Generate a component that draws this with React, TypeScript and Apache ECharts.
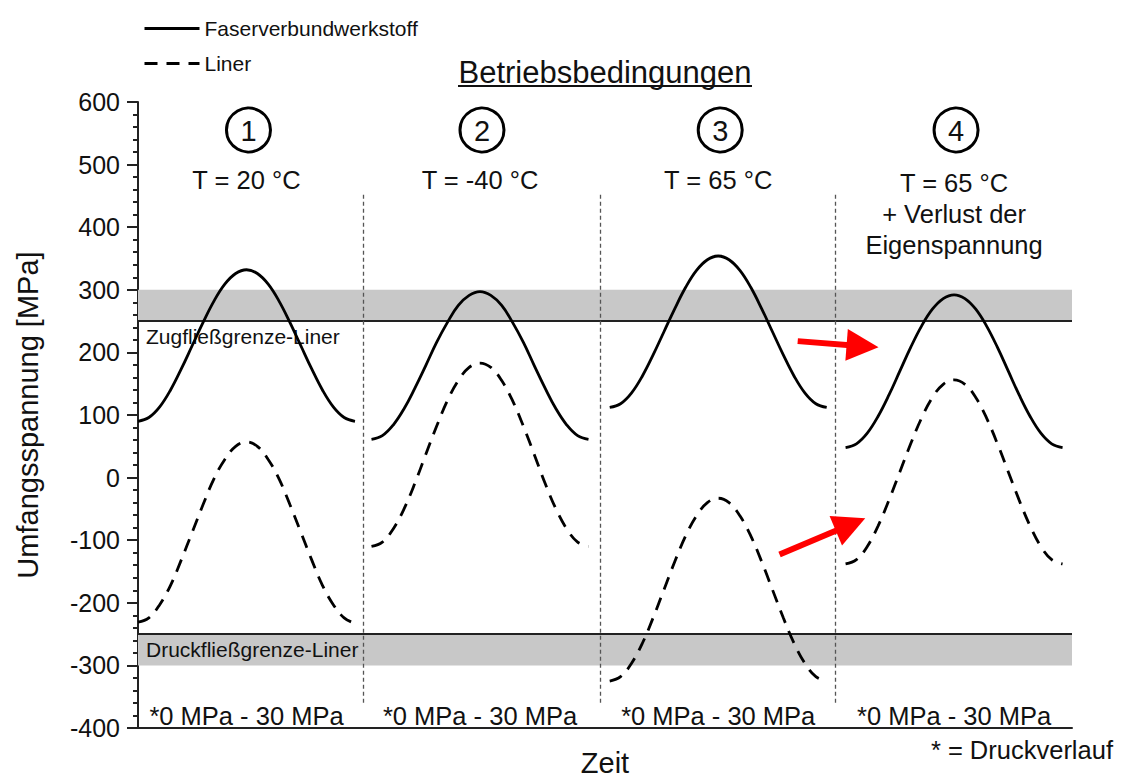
import React, { useEffect, useRef } from "react";
import * as echarts from "echarts";

const FONT = "'Liberation Sans', Arial, sans-serif";

// time offsets within one load cycle (fraction of a section)
const cycleOffsets = [0, 0.046, 0.092, 0.138, 0.184, 0.23, 0.276, 0.322, 0.368, 0.414, 0.46, 0.506, 0.552, 0.598, 0.644, 0.69, 0.736, 0.782, 0.828, 0.874, 0.92];
const sectionStarts = [0, 0.99, 2.0, 3.0];
const dividerX = [0.955, 1.958, 2.958];

const faser1 = [90, 96, 113, 140, 174, 211, 248, 282, 309, 326, 332, 326, 309, 282, 248, 211, 174, 140, 113, 96, 90];
const faser2 = [61, 67, 84, 110, 143, 179, 216, 248, 275, 291, 297, 291, 275, 248, 216, 179, 143, 110, 84, 67, 61];
const faser3 = [112, 118, 135, 162, 196, 233, 270, 304, 331, 348, 354, 348, 331, 304, 270, 233, 196, 162, 135, 118, 112];
const faser4 = [48, 54, 71, 98, 132, 170, 208, 242, 269, 286, 292, 286, 269, 242, 208, 170, 132, 98, 71, 54, 48];

const liner1 = [-231, -224, -203, -172, -131, -87, -43, -2, 29, 50, 57, 50, 29, -2, -43, -87, -131, -172, -203, -224, -233];
const liner2 = [-110, -103, -82, -50, -9, 37, 82, 123, 155, 176, 183, 176, 155, 123, 82, 37, -9, -50, -82, -103, -110];
const liner3 = [-325, -318, -297, -265, -224, -179, -134, -93, -61, -40, -33, -40, -61, -93, -134, -179, -224, -265, -297, -318, -325];
const liner4 = [-138, -131, -110, -77, -36, 9, 54, 95, 128, 149, 156, 149, 128, 95, 54, 9, -36, -77, -110, -131, -138];

const zugGrenze = 250;
const druckGrenze = -250;
const zugBand = [250, 300];
const druckBand = [-300, -250];
const dividerRange = [452, -360];

const arrows = [
  [[2.797, 218], [3.072, 210]],
  [[2.72, -123], [3.021, -75]],
];

const sectionNumbers = ["1", "2", "3", "4"];
const tempLabels = ["T = 20 °C", "T = -40 °C", "T = 65 °C", "T = 65 °C\n+ Verlust der\nEigenspannung"];
const pressureLabel = "*0 MPa - 30 MPa";

function buildSeries(segments: number[][]) {
  const out: (number | null)[][] = [];
  segments.forEach((seg, k) => {
    seg.forEach((v, i) => out.push([sectionStarts[k] + cycleOffsets[i], v]));
    if (k < segments.length - 1) out.push([sectionStarts[k] + 0.95, null]);
  });
  return out;
}

export default function App() {
  const ref = useRef<HTMLDivElement>(null);
  useEffect(() => {
    document.body.style.margin = "0";
    const chart = echarts.init(ref.current!, null, { renderer: "svg" });
    const option: any = {
      animation: false,
      backgroundColor: "#ffffff",
      textStyle: { fontFamily: FONT },
      grid: { left: 138, right: 49, top: 102, bottom: 49 },
      legend: {
        data: ["Faserverbundwerkstoff", "Liner"],
        orient: "vertical",
        left: 138,
        top: 13,
        itemWidth: 55,
        itemHeight: 14,
        itemGap: 14,
        itemStyle: { opacity: 0 },
        lineStyle: { width: 3 },
        textStyle: { fontSize: 21, color: "#111", fontFamily: FONT },
      },
      xAxis: {
        type: "value",
        min: 0,
        max: 3.96,
        name: "Zeit",
        nameLocation: "middle",
        nameGap: 20,
        nameTextStyle: { fontSize: 29, color: "#111", fontFamily: FONT },
        axisLine: { show: true, onZero: false, lineStyle: { color: "#222", width: 2 } },
        axisTick: { show: false },
        axisLabel: { show: false },
        splitLine: { show: false },
      },
      yAxis: {
        type: "value",
        min: -400,
        max: 600,
        interval: 100,
        name: "Umfangsspannung [MPa]",
        nameLocation: "middle",
        nameGap: 96,
        nameTextStyle: { fontSize: 29, color: "#111", fontFamily: FONT },
        axisLine: { show: true, lineStyle: { color: "#222", width: 2 } },
        axisTick: { show: true, length: 11, lineStyle: { color: "#222", width: 2 } },
        minorTick: { show: true, splitNumber: 5, length: 5, lineStyle: { color: "#222", width: 2 } },
        axisLabel: { fontSize: 25, color: "#111", margin: 18, fontFamily: FONT },
        splitLine: { show: false },
      },
      series: [
        {
          name: "Faserverbundwerkstoff",
          type: "line",
          symbol: "none",
          smooth: 0.4,
          connectNulls: false,
          data: buildSeries([faser1, faser2, faser3, faser4]),
          lineStyle: { color: "#000", width: 2.8, type: "solid" },
          itemStyle: { color: "#000" },
          z: 5,
          markArea: {
            silent: true,
            itemStyle: { color: "#c8c8c8" },
            data: [
              [{ yAxis: zugBand[0] }, { yAxis: zugBand[1] }],
              [{ yAxis: druckBand[0] }, { yAxis: druckBand[1] }],
            ],
          },
          markLine: {
            silent: true,
            symbol: ["none", "none"],
            data: [
              {
                yAxis: zugGrenze,
                lineStyle: { color: "#222", width: 2, type: "solid" },
                label: {
                  show: true,
                  position: "insideStartBottom",
                  formatter: "Zugfließgrenze-Liner",
                  fontSize: 21,
                  color: "#111",
                  fontFamily: FONT,
                  distance: [8, 5],
                },
              },
              {
                yAxis: druckGrenze,
                lineStyle: { color: "#222", width: 2, type: "solid" },
                label: {
                  show: true,
                  position: "insideStartBottom",
                  formatter: "Druckfließgrenze-Liner",
                  fontSize: 21,
                  color: "#111",
                  fontFamily: FONT,
                  distance: [8, 5],
                },
              },
              ...dividerX.map((x) => [
                {
                  coord: [x, dividerRange[0]],
                  lineStyle: { color: "#555", width: 1.3, type: [4, 3] },
                  label: { show: false },
                },
                { coord: [x, dividerRange[1]] },
              ]),
            ],
          },
        },
        {
          name: "Liner",
          type: "line",
          symbol: "none",
          smooth: 0.4,
          connectNulls: false,
          data: buildSeries([liner1, liner2, liner3, liner4]),
          lineStyle: { color: "#000", width: 2.8, type: [13, 9] },
          itemStyle: { color: "#000" },
          z: 5,
        },
        {
          name: "Pfeile",
          type: "lines",
          coordinateSystem: "cartesian2d",
          symbol: ["none", "triangle"],
          symbolSize: 32,
          lineStyle: { color: "#ff0000", width: 6, opacity: 1, curveness: 0 },
          itemStyle: { color: "#ff0000" },
          data: arrows.map((c) => ({ coords: c })),
          z: 6,
        },
      ],
    };
    chart.setOption(option);

    const centersX = sectionStarts.map((s) => (chart.convertToPixel({ gridIndex: 0 }, [s + 0.46, 0]) as number[])[0]);
    const graphics: any[] = [];
    graphics.push({
      type: "text",
      x: 605,
      y: 72,
      style: { text: "Betriebsbedingungen", fontSize: 31, fill: "#111", align: "center", verticalAlign: "middle", fontFamily: FONT },
    });
    graphics.push({
      type: "line",
      shape: { x1: 458, y1: 86, x2: 752, y2: 86 },
      style: { stroke: "#111", lineWidth: 2 },
    });
    centersX.forEach((cx, i) => {
      graphics.push({
        type: "circle",
        shape: { cx: cx + 2, cy: 130, r: 22 },
        style: { fill: "none", stroke: "#000", lineWidth: 3 },
      });
      graphics.push({
        type: "text",
        x: cx + 2,
        y: 131,
        style: { text: sectionNumbers[i], fontSize: 29, fill: "#111", align: "center", verticalAlign: "middle", fontFamily: FONT },
      });
      graphics.push({
        type: "text",
        x: cx,
        y: i === 3 ? 167 : 164,
        style: { text: tempLabels[i], fontSize: 25.5, lineHeight: 31, fill: "#111", align: "center", verticalAlign: "top", fontFamily: FONT },
      });
      graphics.push({
        type: "text",
        x: cx,
        y: 716,
        style: { text: pressureLabel, fontSize: 25.5, fill: "#111", align: "center", verticalAlign: "middle", fontFamily: FONT },
      });
    });
    graphics.push({
      type: "text",
      x: 1113,
      y: 750,
      style: { text: "* = Druckverlauf", fontSize: 25.5, fill: "#111", align: "right", verticalAlign: "middle", fontFamily: FONT },
    });
    chart.setOption({ graphic: graphics });

    return () => chart.dispose();
  }, []);
  return <div ref={ref} style={{ width: 1121, height: 782 }} />;
}
